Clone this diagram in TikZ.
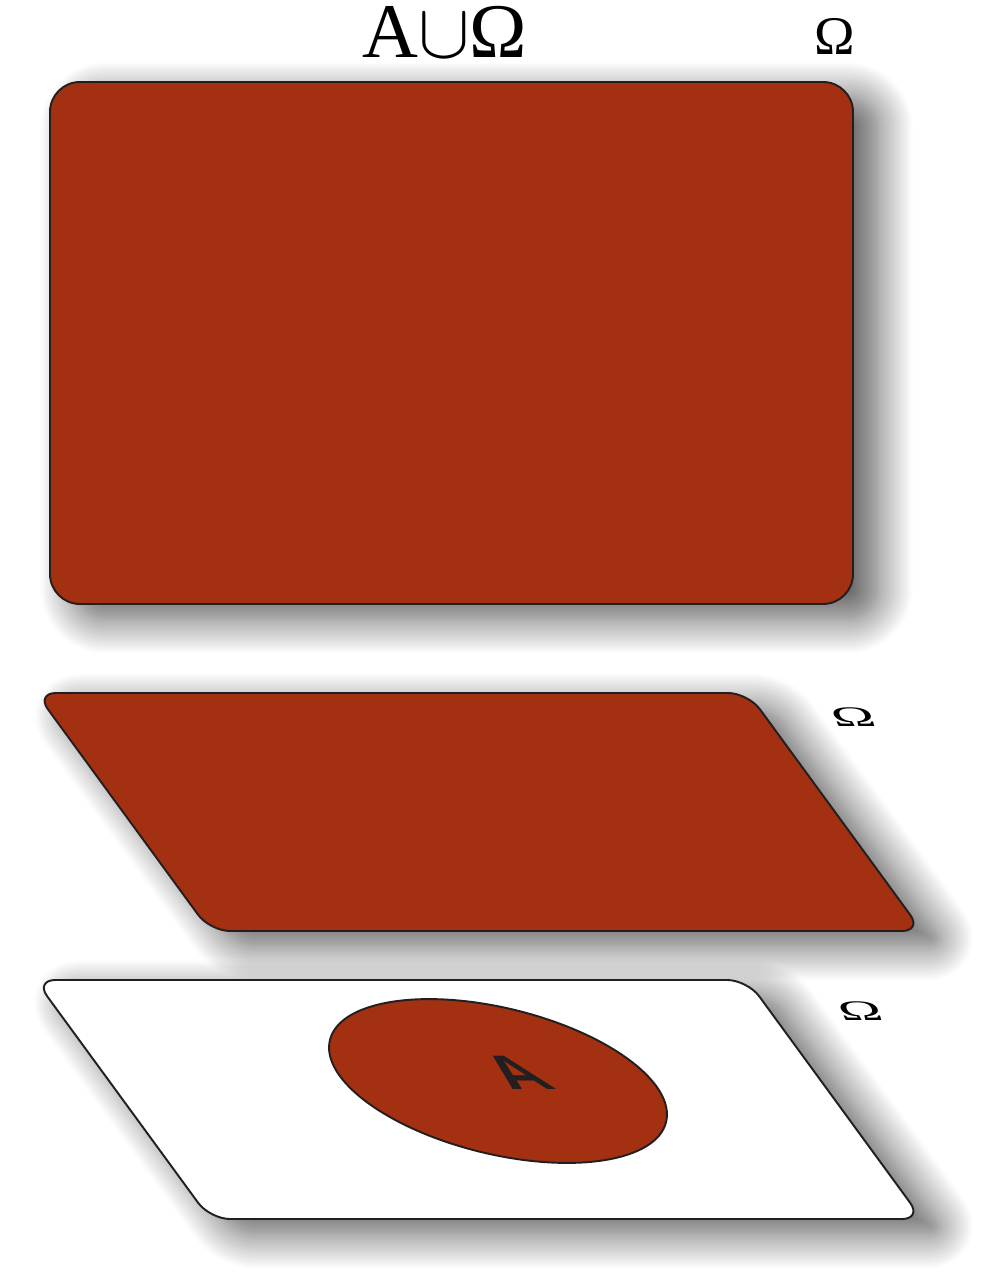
\RequirePackage{fix-cm}
\documentclass[tikz,border=0pt]{standalone}
\usepackage{fontspec}
\usepackage{tikz}
\usetikzlibrary{shadows.blur}
\newfontfamily\labelserif{Liberation Serif}
\newfontfamily\labelsans{Liberation Sans Bold}
\definecolor{setred}{RGB}{163,48,16}
\definecolor{edgegray}{RGB}{35,31,32}

\begin{document}
\begin{tikzpicture}[
  plane/.style={draw=edgegray, line width=1.1pt, line join=round,
    blur shadow={shadow xshift=0.5cm, shadow yshift=-0.3cm,
      shadow blur radius=0.7cm, shadow opacity=65, shadow blur steps=20}},
  flat/.style={cm={1.05,0,-0.2,0.52,(0,0)}},
  big/.style={inner sep=0pt, font=\labelserif\fontsize{44}{46}\selectfont},
  mid/.style={inner sep=0pt, font=\labelserif\fontsize{31}{34}\selectfont}]
  \useasboundingbox (0,0) rectangle (20,-25.58);
  \node[big] (union) at (8.9,-0.64) {A$\cup$Ω};
  \node[mid] (omega) at (16.7,-0.72) {Ω};
  % top sheet
  \draw[plane, fill=setred, rounded corners=0.6cm] (1.0,-1.64) rectangle (17.06,-12.08);
  % middle sheet
  \begin{scope}[shift={(4.2,-18.62)}, xslant=-0.731]
    \draw[plane, fill=setred, rounded corners=0.4cm] (0,0) rectangle (14.24,4.76);
  \end{scope}
  \node[mid, flat] (omegamid) at (17.06,-14.34) {Ω};
  % bottom sheet
  \begin{scope}[shift={(4.2,-24.38)}, xslant=-0.731]
    \draw[plane, fill=white, rounded corners=0.4cm] (0,0) rectangle (14.24,4.78);
  \end{scope}
  \draw[draw=edgegray, line width=1.1pt, fill=setred, rotate around={-13.7:(9.96,-21.62)}]
    (9.96,-21.62) ellipse (3.46 and 1.46);
  \node[font=\labelsans\fontsize{37}{40}\selectfont, text=edgegray,
    cm={1,0,-0.81,0.745,(0,0)}] (seta) at (10.34,-21.46) {A};
  \node[mid, flat] (omegalow) at (17.2,-20.22) {Ω};
\end{tikzpicture}
\end{document}
